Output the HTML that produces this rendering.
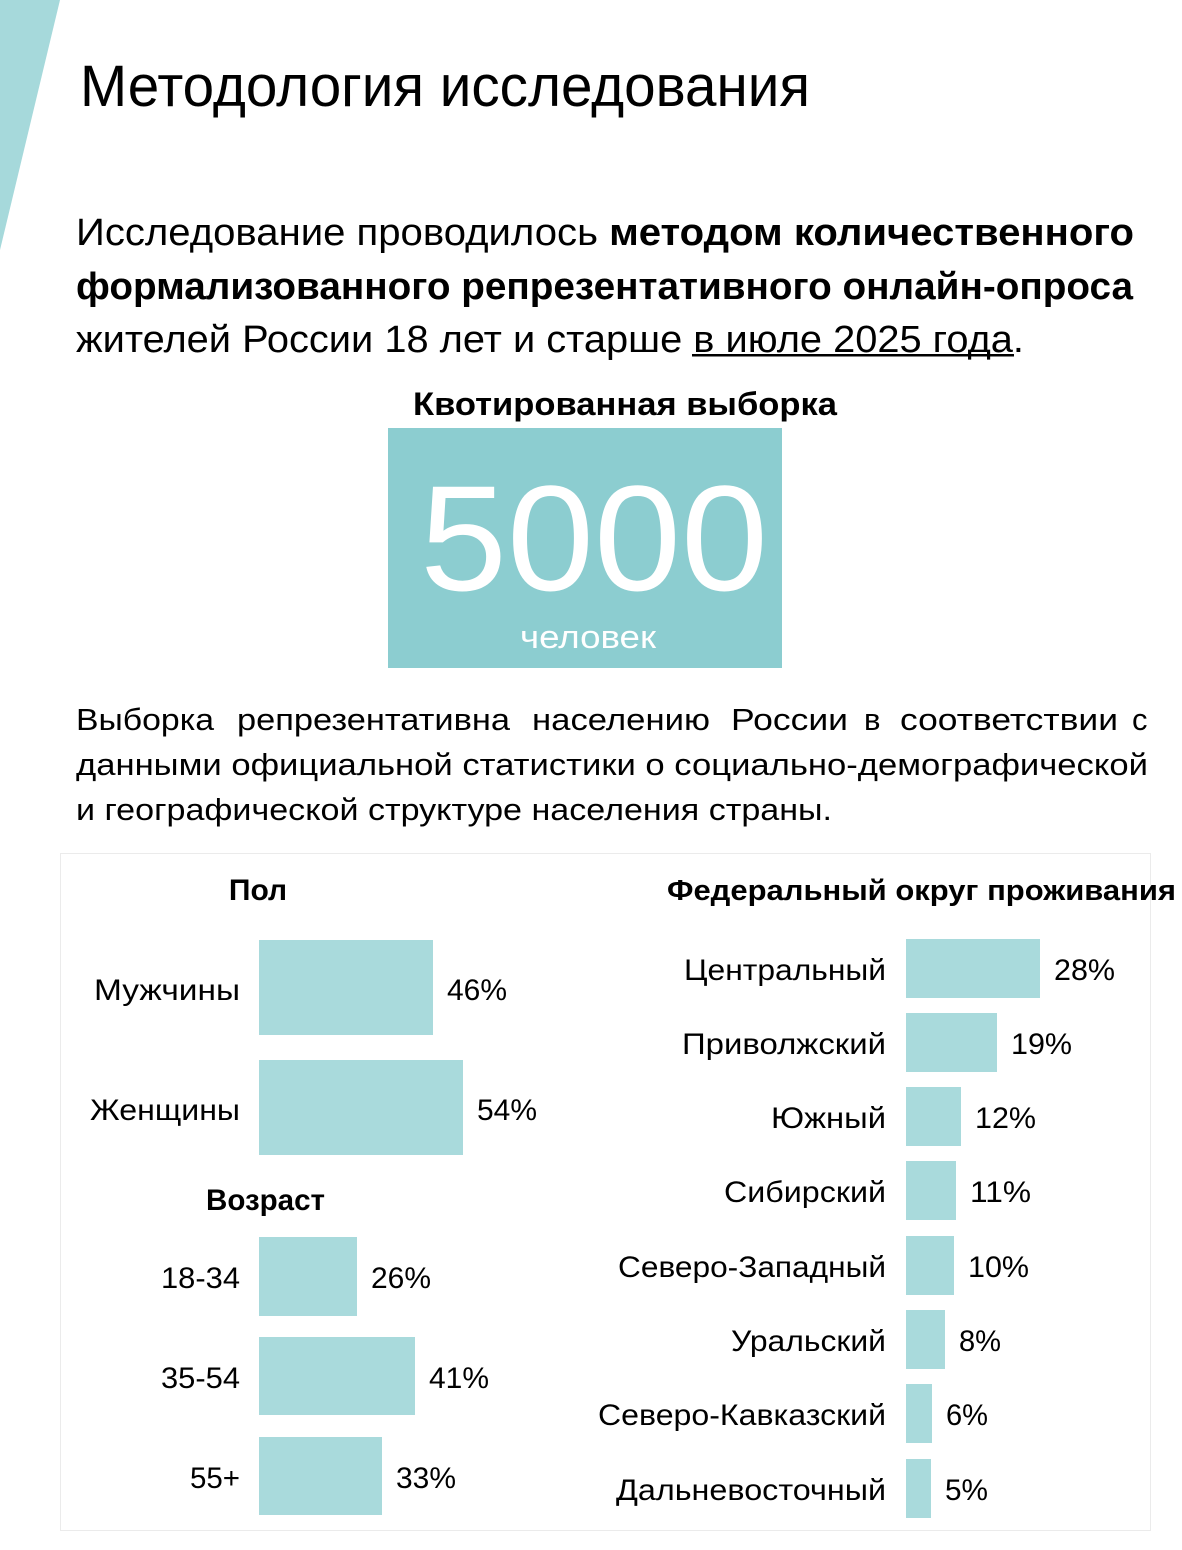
<!DOCTYPE html>
<html><head><meta charset="utf-8"><style>
html,body{margin:0;padding:0;background:#fff;}
svg{display:block;font-family:"Liberation Sans","DejaVu Sans",sans-serif;}
</style></head><body>
<svg width="1182" height="1550" viewBox="0 0 1182 1550" xmlns="http://www.w3.org/2000/svg">
<polygon points="0,0 60,0 0,250" fill="#a6d9db"/>
<text x="80" y="106" font-size="58" textLength="730" lengthAdjust="spacingAndGlyphs">Методология исследования</text>

<g font-size="38">
<text x="76" y="245" textLength="1058" lengthAdjust="spacingAndGlyphs">Исследование проводилось <tspan font-weight="bold">методом количественного</tspan></text>
<text x="76" y="299" textLength="1057" lengthAdjust="spacingAndGlyphs" font-weight="bold">формализованного репрезентативного онлайн-опроса</text>
<text x="76" y="352" textLength="948" lengthAdjust="spacingAndGlyphs">жителей России 18 лет и старше в июле 2025 года.</text>
</g>
<rect x="692" y="354" width="322" height="2.5" fill="#000"/>

<text x="625" y="415" font-size="32" font-weight="bold" text-anchor="middle" textLength="424" lengthAdjust="spacingAndGlyphs">Квотированная выборка</text>
<rect x="388" y="428" width="394" height="240" fill="#8ccdd0"/>
<text x="594" y="590" font-size="150" fill="#fff" text-anchor="middle" textLength="348" lengthAdjust="spacingAndGlyphs">5000</text>
<text x="588" y="648" font-size="32" fill="#fff" text-anchor="middle" textLength="136" lengthAdjust="spacingAndGlyphs">человек</text>

<g font-size="31">
<text x="76" y="730" textLength="138" lengthAdjust="spacingAndGlyphs">Выборка</text>
<text x="237" y="730" textLength="273" lengthAdjust="spacingAndGlyphs">репрезентативна</text>
<text x="532" y="730" textLength="178" lengthAdjust="spacingAndGlyphs">населению</text>
<text x="731" y="730" textLength="117" lengthAdjust="spacingAndGlyphs">России</text>
<text x="864" y="730">в</text>
<text x="900" y="730" textLength="218" lengthAdjust="spacingAndGlyphs">соответствии</text>
<text x="1132" y="730">с</text>
<text x="76" y="775" textLength="1072" lengthAdjust="spacingAndGlyphs">данными официальной статистики о социально-демографической</text>
<text x="76" y="820" textLength="756" lengthAdjust="spacingAndGlyphs">и географической структуре населения страны.</text>
</g>

<rect x="60.5" y="853.5" width="1090" height="677" fill="none" stroke="#ebebeb" stroke-width="1"/>

<g font-size="30">
<text x="258" y="900" font-weight="bold" text-anchor="middle">Пол</text>
<rect x="259" y="940" width="174" height="95" fill="#a9dadc"/>
<rect x="259" y="1060" width="204" height="95" fill="#a9dadc"/>
<text x="94" y="1000" textLength="146" lengthAdjust="spacingAndGlyphs">Мужчины</text>
<text x="90" y="1120" textLength="150" lengthAdjust="spacingAndGlyphs">Женщины</text>
<text x="447" y="1000" textLength="60" lengthAdjust="spacingAndGlyphs">46%</text>
<text x="477" y="1120" textLength="60" lengthAdjust="spacingAndGlyphs">54%</text>

<text x="206" y="1210" font-weight="bold" textLength="119" lengthAdjust="spacingAndGlyphs">Возраст</text>
<rect x="259" y="1237" width="98" height="79" fill="#a9dadc"/>
<rect x="259" y="1337" width="156" height="78" fill="#a9dadc"/>
<rect x="259" y="1437" width="123" height="78" fill="#a9dadc"/>
<text x="161" y="1288" textLength="79" lengthAdjust="spacingAndGlyphs">18-34</text>
<text x="161" y="1388" textLength="79" lengthAdjust="spacingAndGlyphs">35-54</text>
<text x="190" y="1488" textLength="50" lengthAdjust="spacingAndGlyphs">55+</text>
<text x="371" y="1288" textLength="60" lengthAdjust="spacingAndGlyphs">26%</text>
<text x="429" y="1388" textLength="60" lengthAdjust="spacingAndGlyphs">41%</text>
<text x="396" y="1488" textLength="60" lengthAdjust="spacingAndGlyphs">33%</text>

<text x="667" y="900" font-size="29" font-weight="bold" textLength="509" lengthAdjust="spacingAndGlyphs">Федеральный округ проживания</text>
</g>
<g font-size="30" fill="#000">
<rect x="906" y="939" width="134" height="59" fill="#a9dadc"/>
<rect x="906" y="1013" width="91" height="59" fill="#a9dadc"/>
<rect x="906" y="1087" width="55" height="59" fill="#a9dadc"/>
<rect x="906" y="1161" width="50" height="59" fill="#a9dadc"/>
<rect x="906" y="1236" width="48" height="59" fill="#a9dadc"/>
<rect x="906" y="1310" width="39" height="59" fill="#a9dadc"/>
<rect x="906" y="1384" width="26" height="59" fill="#a9dadc"/>
<rect x="906" y="1459" width="25" height="59" fill="#a9dadc"/>
<text x="684" y="980" textLength="202" lengthAdjust="spacingAndGlyphs">Центральный</text>
<text x="682" y="1054" textLength="204" lengthAdjust="spacingAndGlyphs">Приволжский</text>
<text x="771" y="1128" textLength="115" lengthAdjust="spacingAndGlyphs">Южный</text>
<text x="724" y="1202" textLength="162" lengthAdjust="spacingAndGlyphs">Сибирский</text>
<text x="618" y="1277" textLength="268" lengthAdjust="spacingAndGlyphs">Северо-Западный</text>
<text x="731" y="1351" textLength="155" lengthAdjust="spacingAndGlyphs">Уральский</text>
<text x="598" y="1425" textLength="288" lengthAdjust="spacingAndGlyphs">Северо-Кавказский</text>
<text x="616" y="1500" textLength="270" lengthAdjust="spacingAndGlyphs">Дальневосточный</text>
<text x="1054" y="980" textLength="61" lengthAdjust="spacingAndGlyphs">28%</text>
<text x="1011" y="1054" textLength="61" lengthAdjust="spacingAndGlyphs">19%</text>
<text x="975" y="1128" textLength="61" lengthAdjust="spacingAndGlyphs">12%</text>
<text x="970" y="1202" textLength="61" lengthAdjust="spacingAndGlyphs">11%</text>
<text x="968" y="1277" textLength="61" lengthAdjust="spacingAndGlyphs">10%</text>
<text x="959" y="1351" textLength="42" lengthAdjust="spacingAndGlyphs">8%</text>
<text x="946" y="1425" textLength="42" lengthAdjust="spacingAndGlyphs">6%</text>
<text x="945" y="1500" textLength="43" lengthAdjust="spacingAndGlyphs">5%</text>
</g>
</svg>
</body></html>
